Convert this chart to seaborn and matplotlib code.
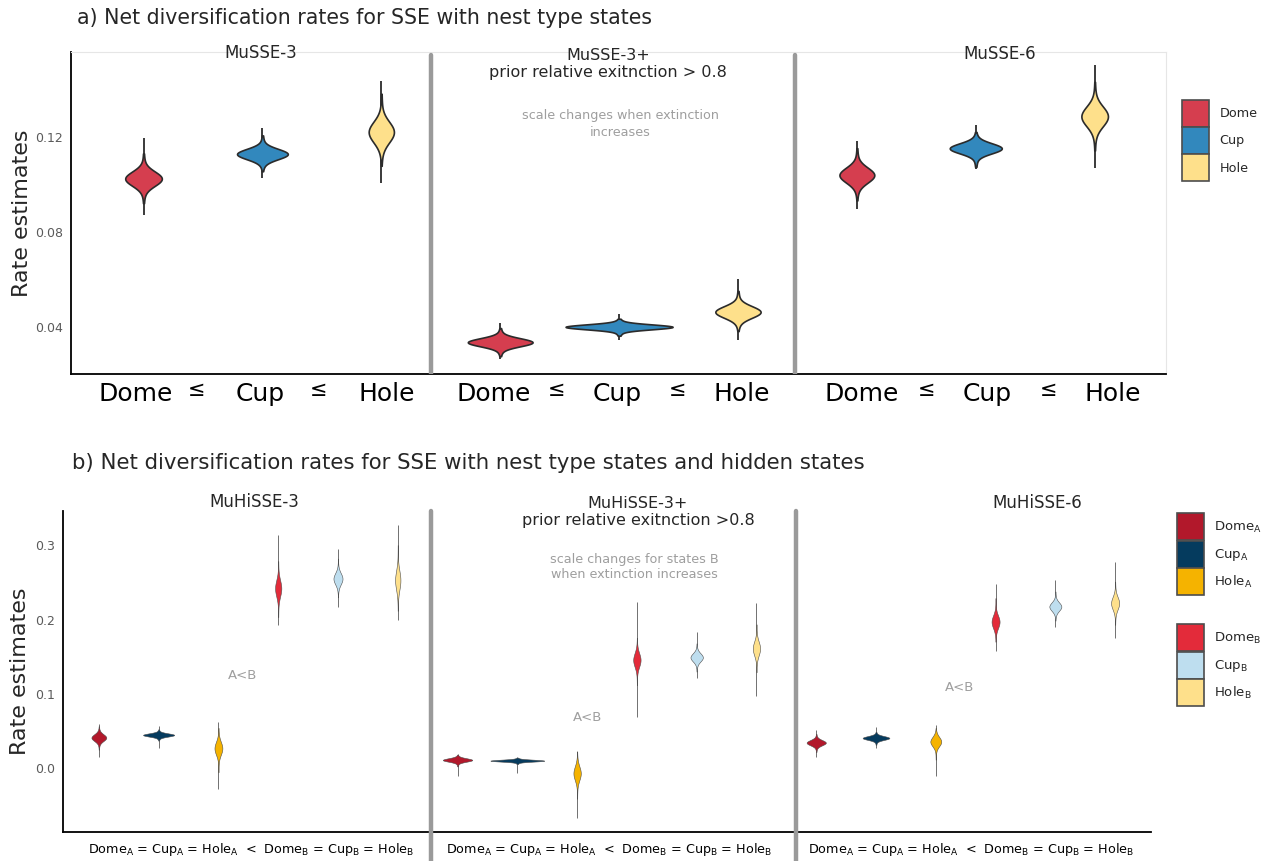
import numpy as np
import pandas as pd
import matplotlib
matplotlib.use("Agg")
import matplotlib.pyplot as plt
import matplotlib.transforms as mtrans
import seaborn as sns
from matplotlib.patches import Patch

# ---------------- data: panel a (MuSSE) ----------------
models_a = ["MuSSE-3", "MuSSE-3+", "MuSSE-6"]
states_a = ["Dome", "Cup", "Hole"]
# per violin (model x state): lower tail end, lower body edge, mode, upper body edge, upper tail end
a_low       = [0.0871, 0.1029, 0.1005, 0.0263, 0.0345, 0.0342, 0.0898, 0.1064, 0.1072]
a_body_low  = [0.0946, 0.1074, 0.1115, 0.0289, 0.0370, 0.0401, 0.0959, 0.1092, 0.1178]
a_center    = [0.1025, 0.1129, 0.1222, 0.0334, 0.0399, 0.0462, 0.1040, 0.1153, 0.1288]
a_body_high = [0.1107, 0.1190, 0.1348, 0.0380, 0.0425, 0.0531, 0.1128, 0.1205, 0.1400]
a_high      = [0.1196, 0.1241, 0.1438, 0.0416, 0.0455, 0.0603, 0.1182, 0.1251, 0.1505]
a_yticks = [0.04, 0.08, 0.12]

# ---------------- data: panel b (MuHiSSE) ----------------
models_b = ["MuHiSSE-3", "MuHiSSE-3+", "MuHiSSE-6"]
states_b = ["DomeA", "CupA", "HoleA", "DomeB", "CupB", "HoleB"]
state_labels_b = [r"Dome$_\mathregular{A}$", r"Cup$_\mathregular{A}$", r"Hole$_\mathregular{A}$",
                  r"Dome$_\mathregular{B}$", r"Cup$_\mathregular{B}$", r"Hole$_\mathregular{B}$"]
b_low       = [0.0153, 0.0265, -0.0287, 0.193, 0.2175, 0.200,
               -0.0108, -0.0072, -0.0678, 0.0683, 0.121, 0.097,
               0.0144, 0.0274, -0.0104, 0.158, 0.1896, 0.175]
b_body_low  = [0.0283, 0.0387, 0.0013, 0.212, 0.236, 0.222,
               0.0040, 0.0063, -0.034, 0.119, 0.1343, 0.1365,
               0.0243, 0.0333, 0.0162, 0.177, 0.2031, 0.1995]
b_center    = [0.0409, 0.0445, 0.0265, 0.242, 0.255, 0.253,
               0.0108, 0.0099, -0.0072, 0.1455, 0.149, 0.161,
               0.0341, 0.0404, 0.0355, 0.197, 0.2174, 0.222]
b_body_high = [0.0526, 0.0503, 0.047, 0.270, 0.276, 0.290,
               0.0162, 0.0130, 0.015, 0.168, 0.1635, 0.186,
               0.0431, 0.0468, 0.0489, 0.222, 0.2332, 0.2443]
b_high      = [0.0593, 0.0570, 0.062, 0.314, 0.295, 0.3275,
               0.0189, 0.0144, 0.0207, 0.224, 0.183, 0.222,
               0.0512, 0.0557, 0.058, 0.248, 0.2534, 0.278]
b_yticks = [0.0, 0.1, 0.2, 0.3]
b_relation = (r"Dome$_\mathregular{A}$ = Cup$_\mathregular{A}$ = Hole$_\mathregular{A}$  <  "
              r"Dome$_\mathregular{B}$ = Cup$_\mathregular{B}$ = Hole$_\mathregular{B}$")

# relative weight of body edges / mode in the posterior body sample
weights = [1, 30, 1]

pal_a = {"Dome": "#D53E4F", "Cup": "#3288BD", "Hole": "#FEE08B"}
pal_b = {"DomeA": "#B2182B", "CupA": "#053B5E", "HoleA": "#F5B300",
         "DomeB": "#E32B3A", "CupB": "#BEDEEF", "HoleB": "#FEE08B"}


def build(bl, cs, bh, states):
    rows = []
    n = len(states)
    for i in range(len(cs)):
        vals = np.repeat([bl[i], cs[i], bh[i]], weights)
        for v in vals:
            rows.append({"pos": i, "state": states[i % n], "value": v})
    return pd.DataFrame(rows)


df_a = build(a_body_low, a_center, a_body_high, states_a)
df_b = build(b_body_low, b_center, b_body_high, states_b)

sns.set_style("white")
plt.rcParams["font.family"] = ["DejaVu Sans"]

W, H = 1265, 861
fig = plt.figure(figsize=(W / 100, H / 100), dpi=100)


def fx(px):
    return px / W


def fy(py):
    return 1 - py / H


SEP = "#9a9a9a"
GRAY_T = "#9e9e9e"

# ======================= panel a =======================
ax1 = fig.add_axes([fx(71), fy(374), fx(1166) - fx(71), fy(52) - fy(374)])
ax1.vlines(range(len(a_low)), a_low, a_high, color="#2b2b2b", lw=1.3, zorder=0.5)
sns.violinplot(data=df_a, x="pos", y="value", hue="state", hue_order=states_a,
               palette=pal_a, saturation=1, dodge=False, inner=None, cut=0.8, bw_adjust=3.0,
               density_norm="area", common_norm=True, width=0.9,
               linewidth=1.2, linecolor="#2b2b2b", legend=False, ax=ax1)
ax1.set_xlim(-0.61, 8.6)
ax1.set_ylim(0.020, 0.156)
ax1.set_yticks(a_yticks)
ax1.set_yticklabels([f"{t:.2f}" for t in a_yticks], fontsize=9, color="#5a5a5a")
ax1.set_xticks(range(9))
ax1.set_xticklabels([""] * 9)
label_shift_px = [-8, -2, 5, -7, -2, 4, 5, 11, 18]
xt = ax1.get_xaxis_transform()
for i, (lab, dx) in enumerate(zip(states_a * 3, label_shift_px)):
    ax1.text(i, -0.062, lab, fontsize=18, color="black", ha="center", va="center",
             transform=xt + mtrans.ScaledTranslation(dx / 100, 0, fig.dpi_scale_trans))
ax1.tick_params(axis="x", length=3, width=0.8, color="#555555", pad=4)
ax1.tick_params(axis="y", length=3, width=0.8, color="#555555", pad=3)
ax1.set_xlabel("")
ax1.set_ylabel("Rate estimates", fontsize=16)
ax1.yaxis.set_label_coords(-0.036, 0.5)
for s in ["left", "bottom"]:
    ax1.spines[s].set_color("black")
    ax1.spines[s].set_linewidth(1.3)
for s in ["top", "right"]:
    ax1.spines[s].set_color("#e6e6e6")
    ax1.spines[s].set_linewidth(0.8)
for xs in [2.414, 5.483]:
    ax1.axvline(xs, ymin=0.0, ymax=0.99, color=SEP, lw=3.2, zorder=5)
for xs in [0.45, 1.47, 3.47, 4.49, 6.59, 7.61]:
    ax1.text(xs, -0.05, "≤", transform=xt, ha="center",
             va="center", fontsize=15, color="black")

fig.text(fx(77), fy(18), "a) Net diversification rates for SSE with nest type states",
         fontsize=14.8, ha="left", va="center")
fig.text(fx(261), fy(53), models_a[0], fontsize=12, ha="center", va="center")
fig.text(fx(608), fy(64), models_a[1] + "\nprior relative exitnction > 0.8", fontsize=11.5,
         ha="center", va="center", linespacing=1.25)
fig.text(fx(1000), fy(54), models_a[2], fontsize=12, ha="center", va="center")
fig.text(fx(620), fy(124), "scale changes when extinction\nincreases", fontsize=9.2,
         ha="center", va="center", color=GRAY_T, linespacing=1.45)

leg_a = [Patch(facecolor=pal_a[s], edgecolor="#4d4d4d", linewidth=1.2, label=s) for s in states_a]
fig.legend(handles=leg_a, loc="upper left", bbox_to_anchor=(fx(1182), fy(100)),
           frameon=False, fontsize=9.2, handlelength=2.08, handleheight=2.85,
           labelspacing=0.03, handletextpad=0.85, borderpad=0, borderaxespad=0)

# ======================= panel b =======================
ax2 = fig.add_axes([fx(63), fy(831.7), fx(1151) - fx(63), fy(510.7) - fy(831.7)])
ax2.vlines(range(len(b_low)), b_low, b_high, color="#5a5a5a", lw=0.6, zorder=0.5)
sns.violinplot(data=df_b, x="pos", y="value", hue="state", hue_order=states_b,
               palette=pal_b, saturation=1, dodge=False, inner=None, cut=0.8, bw_adjust=3.0,
               density_norm="area", common_norm=True, width=0.9,
               linewidth=0.4, linecolor="#4d4d4d", legend=False, ax=ax2)
ax2.set_xlim(-0.6, 17.6)
ax2.set_ylim(-0.0858, 0.3466)
ax2.set_yticks(b_yticks)
ax2.set_yticklabels([f"{t:.1f}" for t in b_yticks], fontsize=9, color="#5a5a5a")
ax2.set_xticks(range(18))
ax2.set_xticklabels([""] * 18)
ax2.tick_params(axis="x", length=3, width=0.8, color="#555555")
ax2.tick_params(axis="y", length=3, width=0.8, color="#555555", pad=3)
ax2.set_xlabel("")
ax2.set_ylabel("Rate estimates", fontsize=16)
ax2.yaxis.set_label_coords(-0.030, 0.5)
for s in ["left", "bottom"]:
    ax2.spines[s].set_color("black")
    ax2.spines[s].set_linewidth(1.3)
for s in ["top", "right"]:
    ax2.spines[s].set_visible(False)
for xs in [5.55, 11.66]:
    ax2.axvline(xs, ymin=-0.095, ymax=1.0, color=SEP, lw=3.2, zorder=5, clip_on=False)
for xc in [2.54, 8.53, 14.59]:
    ax2.text(xc, -0.055, b_relation, transform=ax2.get_xaxis_transform(), ha="center",
             va="center", fontsize=9.2, color="black")
for (xa, ya) in [(2.41, 0.124), (8.18, 0.0687), (14.4, 0.108)]:
    ax2.text(xa, ya, "A<B", ha="center", va="center", fontsize=9.5, color=GRAY_T)

fig.text(fx(72), fy(463), "b) Net diversification rates for SSE with nest type states and hidden states",
         fontsize=15.3, ha="left", va="center")
fig.text(fx(254), fy(502), models_b[0], fontsize=12, ha="center", va="center")
fig.text(fx(638), fy(512), models_b[1] + "\nprior relative exitnction >0.8", fontsize=11.5,
         ha="center", va="center", linespacing=1.25)
fig.text(fx(1037), fy(503), models_b[2], fontsize=12, ha="center", va="center")
fig.text(fx(634), fy(567), "scale changes for states B\nwhen extinction increases", fontsize=9.2,
         ha="center", va="center", color=GRAY_T, linespacing=1.1)

hb = [Patch(facecolor=pal_b[s], edgecolor="#4d4d4d", linewidth=1.2, label=l)
      for s, l in zip(states_b, state_labels_b)]
fig.legend(handles=hb[:3], loc="upper left", bbox_to_anchor=(fx(1177), fy(513)),
           frameon=False, fontsize=9.5, handlelength=2.05, handleheight=2.77,
           labelspacing=0.04, handletextpad=0.75, borderpad=0, borderaxespad=0)
fig.legend(handles=hb[3:], loc="upper left", bbox_to_anchor=(fx(1177), fy(624)),
           frameon=False, fontsize=9.5, handlelength=2.05, handleheight=2.77,
           labelspacing=0.04, handletextpad=0.75, borderpad=0, borderaxespad=0)

fig.savefig("out.png", dpi=100)
